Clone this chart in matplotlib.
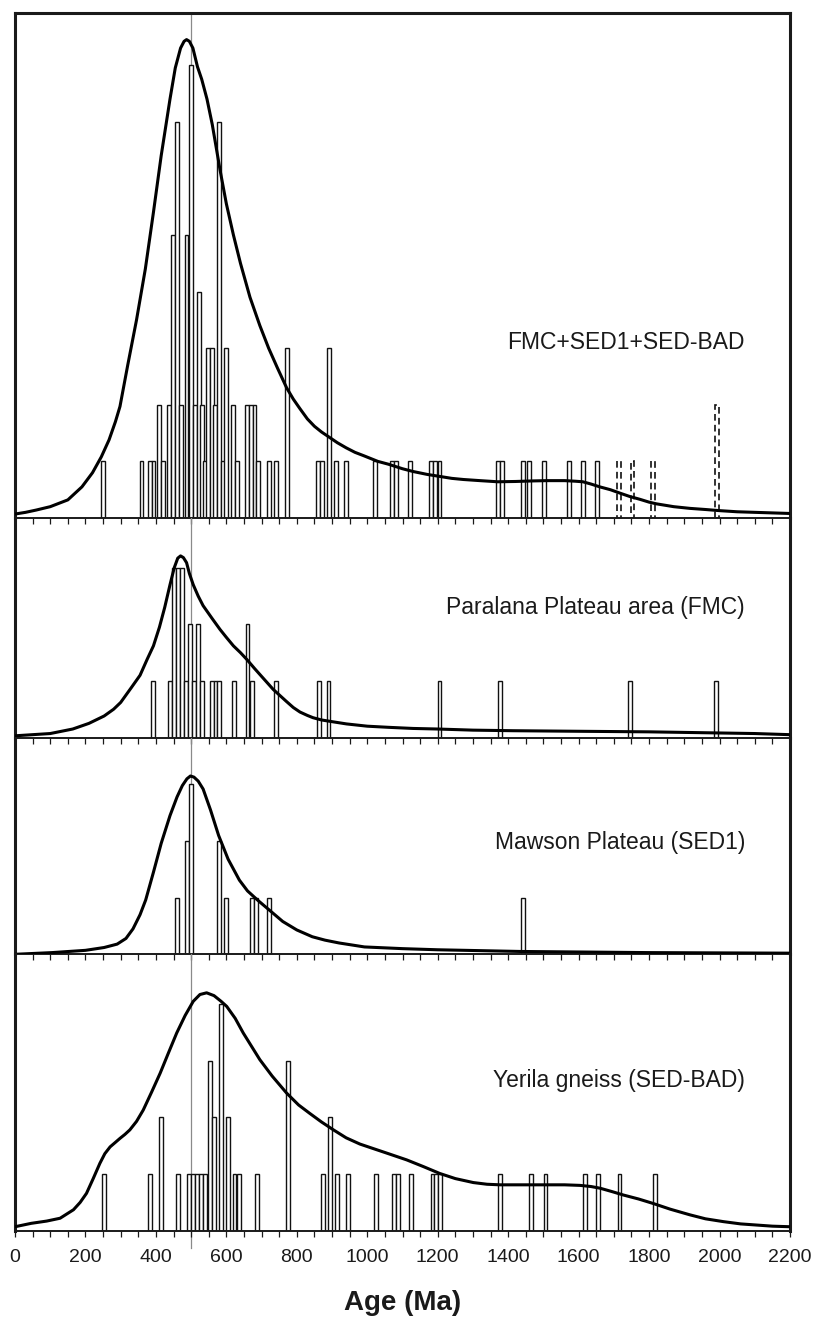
import matplotlib
matplotlib.use("Agg")
import matplotlib.pyplot as plt
from matplotlib.ticker import MultipleLocator

plt.rcParams['font.family'] = ['Liberation Sans', 'DejaVu Sans']

# ---------------- data ----------------
x_min, x_max = 0, 2200
ref_age = 500
bin_width = 11

panel_labels = ["FMC+SED1+SED-BAD", "Paralana Plateau area (FMC)",
                "Mawson Plateau (SED1)", "Yerila gneiss (SED-BAD)"]

# Panel 1: FMC+SED1+SED-BAD
comb_ages = [251, 359, 382, 393, 408, 421, 438, 448, 460, 472, 487, 499, 511, 522,
             530, 539, 549, 558, 568, 580, 591, 600, 618, 630, 659, 669, 680, 691,
             720, 740, 771, 860, 871, 891, 910, 940, 1021, 1070, 1082, 1121, 1181,
             1193, 1205, 1371, 1383, 1441, 1460, 1502, 1572, 1612, 1653]
comb_counts = [1, 1, 1, 1, 2, 1, 2, 5, 7, 2, 5, 8, 2, 4,
               2, 1, 3, 3, 2, 7, 1, 3, 2, 1, 2, 2, 2, 1,
               1, 1, 3, 1, 1, 3, 1, 1, 1, 1, 1, 1, 1,
               1, 1, 1, 1, 1, 1, 1, 1, 1, 1]
comb_dashed_ages = [1714, 1753, 1811, 1994]
comb_dashed_counts = [1, 1, 1, 2]
comb_curve_ages = [0, 30, 60, 100, 150, 190, 220, 245, 267, 285, 298, 320, 345, 370, 393,
                   415, 440, 455, 470, 480, 487, 495, 505, 518, 530, 545, 560, 582, 600,
                   620, 640, 667, 695, 720, 745, 771, 790, 809, 830, 850, 870, 889, 915,
                   940, 965, 990, 1030, 1060, 1100, 1131, 1170, 1200, 1240, 1273, 1320,
                   1370, 1420, 1470, 1510, 1560, 1590, 1612, 1635, 1660, 1690, 1717, 1745,
                   1774, 1800, 1821, 1870, 1916, 1960, 2000, 2050, 2100, 2150, 2200]
comb_curve_dens = [0.07, 0.1, 0.14, 0.2, 0.32, 0.55, 0.8, 1.08, 1.38, 1.7, 1.97, 2.7, 3.5,
                   4.4, 5.4, 6.4, 7.4, 7.95, 8.3, 8.42, 8.45, 8.42, 8.3, 7.97, 7.75, 7.4,
                   6.95, 6.15, 5.55, 5.0, 4.5, 3.9, 3.4, 3.0, 2.65, 2.3, 2.1, 1.93, 1.75,
                   1.62, 1.52, 1.44, 1.33, 1.24, 1.16, 1.1, 1.0, 0.95, 0.87, 0.82, 0.77,
                   0.74, 0.7, 0.68, 0.66, 0.64, 0.645, 0.655, 0.66, 0.66, 0.65, 0.64, 0.6,
                   0.55, 0.5, 0.44, 0.38, 0.33, 0.28, 0.25, 0.2, 0.17, 0.15, 0.13, 0.11,
                   0.1, 0.09, 0.08]

# Panel 2: Paralana Plateau area (FMC)
fmc_ages = [391, 440, 451, 463, 474, 486, 497, 508, 520, 531, 559, 569, 580, 621,
            660, 672, 741, 862, 890, 1205, 1376, 1746, 1990]
fmc_counts = [1, 1, 3, 3, 3, 1, 2, 1, 2, 1, 1, 1, 1, 1,
              2, 1, 1, 1, 1, 1, 1, 1, 1]
fmc_curve_ages = [0, 50, 100, 164, 210, 253, 280, 300, 330, 355, 375, 393, 410, 425, 440,
                  452, 462, 470, 478, 487, 495, 506, 520, 534, 560, 582, 600, 620, 640,
                  658, 680, 700, 733, 770, 790, 809, 830, 846, 870, 900, 941, 1000, 1060,
                  1130, 1200, 1300, 1414, 1600, 1800, 2000, 2100, 2200]
fmc_curve_dens = [0.03, 0.05, 0.07, 0.15, 0.25, 0.38, 0.5, 0.62, 0.88, 1.1, 1.38, 1.62,
                  1.95, 2.3, 2.7, 3.0, 3.17, 3.21, 3.18, 3.09, 2.9, 2.7, 2.5, 2.33, 2.1,
                  1.91, 1.77, 1.62, 1.5, 1.38, 1.22, 1.08, 0.85, 0.64, 0.53, 0.45, 0.39,
                  0.35, 0.31, 0.28, 0.24, 0.2, 0.18, 0.16, 0.15, 0.13, 0.12, 0.11, 0.1,
                  0.08, 0.07, 0.05]

# Panel 3: Mawson Plateau (SED1)
sed1_ages = [461, 489, 500, 580, 598, 674, 685, 721, 1442]
sed1_counts = [1, 2, 3, 2, 1, 1, 1, 1, 1]
sed1_curve_ages = [0, 105, 200, 253, 290, 315, 335, 355, 371, 393, 415, 440, 460, 475, 488,
                   498, 508, 520, 534, 555, 578, 605, 637, 660, 690, 726, 760, 800, 844,
                   880, 920, 992, 1100, 1200, 1435, 1800, 2200]
sed1_curve_dens = [0.0, 0.03, 0.07, 0.12, 0.18, 0.28, 0.45, 0.7, 0.96, 1.45, 1.96, 2.45,
                   2.78, 2.98, 3.1, 3.15, 3.13, 3.06, 2.92, 2.55, 2.1, 1.68, 1.31, 1.12,
                   0.95, 0.76, 0.58, 0.43, 0.31, 0.25, 0.2, 0.13, 0.1, 0.08, 0.05, 0.03,
                   0.02]

# Panel 4: Yerila gneiss (SED-BAD)
bad_ages = [253, 383, 414, 463, 495, 506, 517, 528, 539, 553, 566, 585, 605, 623, 636,
            686, 775, 875, 895, 915, 945, 1026, 1075, 1087, 1124, 1185, 1196, 1207,
            1376, 1465, 1506, 1617, 1656, 1716, 1816]
bad_counts = [1, 1, 2, 1, 1, 1, 1, 1, 1, 3, 2, 4, 2, 1, 1,
              1, 3, 1, 2, 1, 1, 1, 1, 1, 1, 1, 1, 1,
              1, 1, 1, 1, 1, 1, 1]
bad_curve_ages = [0, 46, 90, 128, 166, 185, 203, 222, 241, 255, 270, 285, 298, 312, 326,
                  345, 364, 388, 412, 435, 459, 483, 506, 525, 544, 565, 585, 601, 625,
                  648, 672, 695, 730, 771, 805, 837, 870, 904, 940, 979, 1017, 1060,
                  1112, 1160, 1206, 1250, 1301, 1340, 1377, 1490, 1560, 1604, 1635, 1661,
                  1695, 1727, 1770, 1812, 1860, 1916, 1960, 2011, 2060, 2105, 2150, 2200]
bad_curve_dens = [0.07, 0.13, 0.17, 0.22, 0.37, 0.5, 0.66, 0.92, 1.19, 1.36, 1.48, 1.56,
                  1.63, 1.7, 1.78, 1.93, 2.13, 2.45, 2.78, 3.13, 3.49, 3.8, 4.05, 4.17,
                  4.2, 4.15, 4.05, 3.96, 3.75, 3.49, 3.25, 3.02, 2.73, 2.43, 2.22, 2.07,
                  1.92, 1.78, 1.64, 1.53, 1.45, 1.36, 1.25, 1.13, 1.01, 0.92, 0.85, 0.82,
                  0.81, 0.81, 0.81, 0.8, 0.78, 0.75, 0.69, 0.63, 0.56, 0.48, 0.38, 0.28,
                  0.21, 0.16, 0.12, 0.1, 0.08, 0.07]

tick_values = list(range(0, 2201, 200))

# ---------------- layout ----------------
W, H = 816, 1320
fig = plt.figure(figsize=(W / 100, H / 100), dpi=100)

left_px, right_px = 15, 790
panels = [
    dict(top=13, bot=518, ymax=8.92, ly=3.1,
         ages=comb_ages, counts=comb_counts, dages=comb_dashed_ages, dcounts=comb_dashed_counts,
         cx=comb_curve_ages, cy=comb_curve_dens),
    dict(top=518, bot=737.5, ymax=3.88, ly=2.3,
         ages=fmc_ages, counts=fmc_counts, dages=[], dcounts=[],
         cx=fmc_curve_ages, cy=fmc_curve_dens),
    dict(top=737.5, bot=954.3, ymax=3.83, ly=1.98,
         ages=sed1_ages, counts=sed1_counts, dages=[], dcounts=[],
         cx=sed1_curve_ages, cy=sed1_curve_dens),
    dict(top=954.3, bot=1230.7, ymax=4.88, ly=2.66,
         ages=bad_ages, counts=bad_counts, dages=[], dcounts=[],
         cx=bad_curve_ages, cy=bad_curve_dens),
]

text_color = '#1a1a1a'
for i, p in enumerate(panels):
    ax = fig.add_axes([left_px / W, 1 - p['bot'] / H,
                       (right_px - left_px) / W, (p['bot'] - p['top']) / H])
    ax.set_xlim(x_min, x_max)
    ax.set_ylim(0, p['ymax'])
    ax.set_facecolor('none')

    last = (i == len(panels) - 1)
    if last:
        ax.axvline(ref_age, ymin=-0.063, ymax=1, color='#8a8a8a', lw=0.9,
                   zorder=0, clip_on=False)
    else:
        ax.axvline(ref_age, color='#8a8a8a', lw=0.9, zorder=0)

    ax.bar(p['ages'], p['counts'], width=bin_width, facecolor='white',
           edgecolor='#111111', linewidth=1.0, zorder=2)
    if p['dages']:
        ax.bar(p['dages'], p['dcounts'], width=bin_width, facecolor='none',
               edgecolor='#111111', linewidth=1.2, linestyle=(0, (4, 2.5)), zorder=2)
    ax.plot(p['cx'], p['cy'], color='black', lw=2.2, zorder=3,
            solid_joinstyle='round', solid_capstyle='round')

    ax.text(2072, p['ly'], panel_labels[i], ha='right', va='center',
            fontsize=16.5, color=text_color, zorder=4)

    for side in ('left', 'right'):
        ax.spines[side].set_linewidth(2.2)
        ax.spines[side].set_color('#1a1a1a')
    ax.spines['bottom'].set_linewidth(1.4)
    ax.spines['bottom'].set_color('#1a1a1a')
    if i == 0:
        ax.spines['top'].set_linewidth(2.2)
        ax.spines['top'].set_color('#1a1a1a')
    else:
        ax.spines['top'].set_visible(False)

    ax.set_yticks([])
    ax.xaxis.set_major_locator(MultipleLocator(200))
    ax.xaxis.set_minor_locator(MultipleLocator(50))
    ax.tick_params(axis='x', which='both', direction='out', length=4.5, width=0.9,
                   color='#1a1a1a', top=False)
    if last:
        ax.set_xticks(tick_values)
        ax.set_xticklabels([str(v) for v in tick_values])
        ax.tick_params(axis='x', which='major', labelsize=14, pad=9, labelcolor=text_color)
    else:
        ax.tick_params(axis='x', which='major', labelbottom=False)

fig.text((left_px + right_px) / 2 / W, 1 - 1303 / H, 'Age (Ma)', ha='center', va='center',
         fontsize=20, fontweight='bold', color=text_color)

fig.savefig('out.png', dpi=100)
